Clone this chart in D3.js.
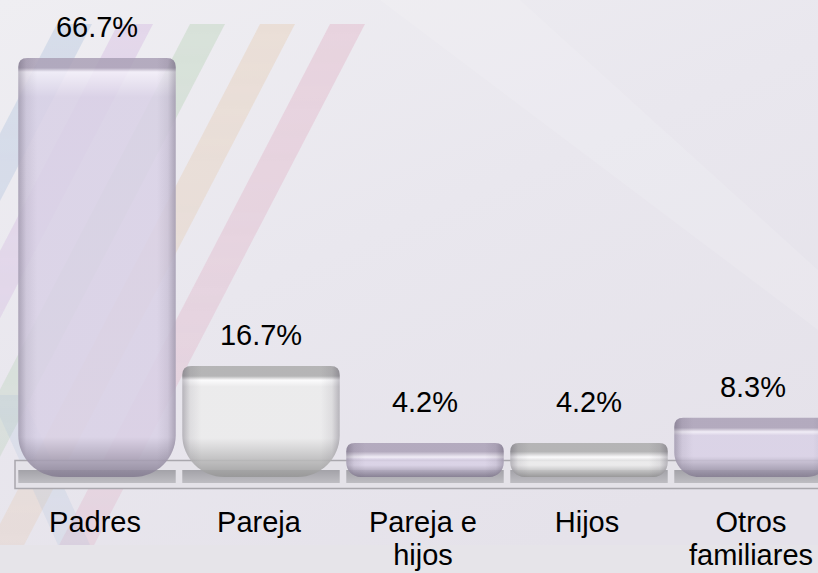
<!DOCTYPE html>
<html>
<head>
<meta charset="utf-8">
<script src="https://cdn.jsdelivr.net/npm/d3@7"></script>
<style>
  html, body { margin: 0; padding: 0; background: #ebe9ee; }
  svg { display: block; }
  text { font-family: "Liberation Sans", Arial, sans-serif; }
</style>
</head>
<body>
<svg width="818" height="573"></svg>
<script>
// chart data
const categories = ["Padres", "Pareja", "Pareja e\nhijos", "Hijos", "Otros\nfamiliares"];
const values = [66.7, 16.7, 4.2, 4.2, 8.3];
const valueLabels = ["66.7%", "16.7%", "4.2%", "4.2%", "8.3%"];

// look
const barTones = ["lav", "gray", "lav", "gray", "lav"];
const tones = {
  lav:  { top: "#aba1b7", hi: "#f3eff9", body: "#d9d1e6", bottom: "#827a8f" },
  gray: { top: "#adadad", hi: "#ffffff", body: "#ececec", bottom: "#959595" }
};
// faint background stripes: x of top-left corner, colour
const stripeX = [57, 118, 190, 260, 330];
const stripeColors = ["#9db6d6", "#c9a6d9", "#a6c9a2", "#e6bf9c", "#dd9cb5"];

let svg = d3.select("svg");
let width = +svg.attr("width");
let height = +svg.attr("height");
let defs = svg.append("defs");

// background
let bg = defs.append("linearGradient").attr("id", "bg")
  .attr("x1", 0).attr("y1", 0).attr("x2", 0.6).attr("y2", 1);
bg.append("stop").attr("offset", 0).attr("stop-color", "#efeef2");
bg.append("stop").attr("offset", 0.5).attr("stop-color", "#e9e7ee");
bg.append("stop").attr("offset", 1).attr("stop-color", "#e5e2ea");
svg.append("rect").attr("width", width).attr("height", height).attr("fill", "url(#bg)");
svg.append("path")
  .attr("d", "M380,0 L520,0 L818,270 L818,330 Z")
  .attr("fill", "#ffffff").attr("opacity", 0.12);
svg.append("rect").attr("x", 0).attr("y", 545).attr("width", width).attr("height", 28)
  .attr("fill", "#e6e4e9");

// stripes fade a little towards the bottom
let sf = defs.append("linearGradient").attr("id", "stripeFade")
  .attr("x1", 0).attr("y1", 0).attr("x2", 0).attr("y2", 1);
sf.append("stop").attr("offset", 0).attr("stop-color", "#fff").attr("stop-opacity", 1);
sf.append("stop").attr("offset", 1).attr("stop-color", "#fff").attr("stop-opacity", 0.7);
defs.append("mask").attr("id", "fadeMask")
  .append("rect").attr("width", width).attr("height", height).attr("fill", "url(#stripeFade)");

let stripes = svg.append("g").attr("class", "stripes").attr("mask", "url(#fadeMask)");
let slope = 0.52, sTop = 24, sBot = 545, sW = 35;
stripeX.forEach((x0, i) => {
  let dx = (sBot - sTop) * slope;
  stripes.append("path")
    .attr("d", `M${x0},${sTop} L${x0 + sW},${sTop} L${x0 + sW - dx},${sBot} L${x0 - dx},${sBot} Z`)
    .attr("fill", stripeColors[i])
    .attr("opacity", 0.3);
});
stripes.append("path")
  .attr("d", "M-10,395 L22,395 L90,545 L58,545 Z")
  .attr("fill", "#9db6d6").attr("opacity", 0.22);

// scales
let x = d3.scaleBand()
  .domain(categories)
  .range([15, 835])
  .paddingInner(0.04)
  .paddingOuter(0.02);
let y = d3.scaleLinear()
  .domain([0, 70])
  .range([469, 469 - 70 * 6.163]);

const base = y(0);
const sink = 8;   // bars run a little into the floor

// floor
let floor = svg.append("g").attr("class", "floor");
floor.append("rect")
  .attr("x", 15).attr("y", base - 8.5)
  .attr("width", 830).attr("height", 28)
  .attr("fill", "#e4e2e8")
  .attr("stroke", "#a9a7ad").attr("stroke-width", 1.5);
let fg = defs.append("linearGradient").attr("id", "floorBand")
  .attr("x1", 0).attr("y1", 0).attr("x2", 0).attr("y2", 1);
fg.append("stop").attr("offset", 0).attr("stop-color", "#a3a2a8");
fg.append("stop").attr("offset", 1).attr("stop-color", "#bebdc2");
floor.selectAll("rect.seg")
  .data(categories)
  .enter().append("rect")
    .attr("class", "seg")
    .attr("x", d => x(d))
    .attr("y", base + 1)
    .attr("width", x.bandwidth())
    .attr("height", 13)
    .attr("fill", "url(#floorBand)");

// horizontal edge shading shared by all bars
let edge = defs.append("linearGradient").attr("id", "edge")
  .attr("x1", 0).attr("y1", 0).attr("x2", 1).attr("y2", 0);
[[0, 0.3], [0.05, 0.08], [0.12, 0], [0.88, 0], [0.95, 0.08], [1, 0.3]].forEach(s => {
  edge.append("stop").attr("offset", s[0]).attr("stop-color", "#3a3346").attr("stop-opacity", s[1]);
});

function barPath(x0, x1, y0, y1, rt, rb) {
  return `M${x0},${y0 + rt}` +
    `Q${x0},${y0} ${x0 + rt},${y0}` +
    `L${x1 - rt},${y0}` +
    `Q${x1},${y0} ${x1},${y0 + rt}` +
    `L${x1},${y1 - rb}` +
    `C${x1},${y1 - rb * 0.45} ${x1 - rb * 0.45},${y1} ${x1 - rb},${y1}` +
    `L${x0 + rb},${y1}` +
    `C${x0 + rb * 0.45},${y1} ${x0},${y1 - rb * 0.45} ${x0},${y1 - rb}` +
    `Z`;
}

let bars = svg.append("g").attr("class", "bars");
categories.forEach((c, i) => {
  let x0 = x(c), x1 = x(c) + x.bandwidth();
  let y0 = y(values[i]), y1 = base + sink;
  let h = y1 - y0;
  let rt = Math.min(9, h * 0.25);
  let rb = Math.min(42, h * 0.42);
  let t = tones[barTones[i]];

  let band = Math.min(10, h * 0.25) / h;
  let hi = Math.min(14, h * 0.45) / h;
  let shade = Math.max(hi + 0.08, 1 - Math.min(40, h * 0.35) / h);

  let g = defs.append("linearGradient").attr("id", "bar" + i)
    .attr("x1", 0).attr("y1", 0).attr("x2", 0).attr("y2", 1);
  [[0, t.top], [band, t.top], [hi, t.hi], [Math.min(hi + 0.06, shade), t.body], [shade, t.body], [1, t.bottom]]
    .forEach(s => g.append("stop").attr("offset", s[0]).attr("stop-color", s[1]));

  let d = barPath(x0, x1, y0, y1, rt, rb);
  bars.append("path").attr("d", d).attr("fill", "url(#bar" + i + ")").attr("opacity", 0.86);
  bars.append("path").attr("d", d).attr("fill", "url(#edge)");
});

// value labels
svg.append("g").attr("class", "values")
  .selectAll("text")
  .data(values)
  .enter().append("text")
    .attr("x", (d, i) => x(categories[i]) + x.bandwidth() / 2)
    .attr("y", d => Math.min(y(d) - 21, base - 57))
    .attr("text-anchor", "middle")
    .attr("font-size", 29)
    .attr("fill", "#000")
    .text((d, i) => valueLabels[i]);

// category labels
let cat = svg.append("g").attr("class", "categories")
  .selectAll("text")
  .data(categories)
  .enter().append("text")
    .attr("x", d => x(d) + x.bandwidth() / 2 - 2)
    .attr("y", 532)
    .attr("text-anchor", "middle")
    .attr("font-size", 29)
    .attr("fill", "#000");
cat.selectAll("tspan")
  .data(d => d.split("\n"))
  .enter().append("tspan")
    .attr("x", function() { return this.parentNode.getAttribute("x"); })
    .attr("dy", (d, i) => i ? 33 : 0)
    .text(d => d);
</script>
</body>
</html>
